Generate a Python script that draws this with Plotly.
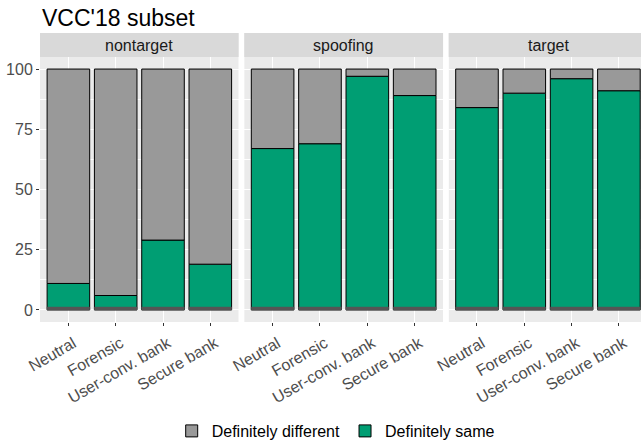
import plotly.graph_objects as go

panels = ["nontarget", "spoofing", "target"]
categories = ["Neutral", "Forensic", "User-conv. bank", "Secure bank"]
same = {
    "nontarget": [11, 6, 29, 19],
    "spoofing": [67, 69, 97, 89],
    "target": [84, 90, 96, 91],
}
different = {p: [100 - v for v in same[p]] for p in panels}
baseline = [1.2, 1.2, 1.2, 1.2]
y_ticks = [0, 25, 50, 75, 100]

GREEN = "#009E73"
GREY = "#999999"
FONT = "Liberation Sans, Arial, sans-serif"

W, H = 641, 442
ML, MR, MT, MB = 40, 0, 57, 120
PW = W - ML - MR
PH = H - MT - MB

# panel pixel extents
px = [(40, 238.7), (244.2, 443.1), (448.6, 641)]
domains = [((a - ML) / PW, (b - ML) / PW) for a, b in px]
unit = (238.7 - 40) / 4.2
ranges = [[-0.6, 3.6], [-0.6, 3.6], [-0.6, -0.6 + (641 - 448.6) / unit]]

fig = go.Figure()
for i, p in enumerate(panels):
    xa = "x" if i == 0 else f"x{i+1}"
    ya = "y" if i == 0 else f"y{i+1}"
    fig.add_trace(go.Bar(
        x=categories, y=same[p], base=[0] * 4, name="Definitely same",
        marker=dict(color=GREEN, line=dict(color="black", width=1)),
        width=0.9, xaxis=xa, yaxis=ya, showlegend=(i == 0), legendrank=2,
    ))
    fig.add_trace(go.Bar(
        x=categories, y=different[p], base=same[p], name="Definitely different",
        marker=dict(color=GREY, line=dict(color="black", width=1)),
        width=0.9, xaxis=xa, yaxis=ya, showlegend=(i == 0), legendrank=1,
    ))
    fig.add_trace(go.Bar(
        x=categories, y=baseline, base=[0] * 4, name="",
        marker=dict(color="#555555", line=dict(color="#555555", width=0.5)),
        width=0.9, xaxis=xa, yaxis=ya, showlegend=False, hoverinfo="skip",
    ))

layout = dict(
    width=W, height=H,
    margin=dict(l=ML, r=MR, t=MT, b=MB, autoexpand=False),
    paper_bgcolor="white", plot_bgcolor="#EBEBEB",
    barmode="overlay",
    font=dict(family=FONT, size=16, color="#4D4D4D"),
    legend=dict(
        orientation="h", x=0.492, xanchor="center",
        yref="container", y=1 - 431 / H, yanchor="middle",
        font=dict(size=16, color="black"), traceorder="normal",
        itemwidth=30, tracegroupgap=0,
    ),
)
for i in range(3):
    xk = "xaxis" if i == 0 else f"xaxis{i+1}"
    yk = "yaxis" if i == 0 else f"yaxis{i+1}"
    layout[xk] = dict(
        domain=list(domains[i]), range=ranges[i], type="category",
        anchor="y" if i == 0 else f"y{i+1}",
        showgrid=True, gridcolor="white", gridwidth=1.1,
        ticks="outside", ticklen=3, tickcolor="#333333", tickwidth=1,
        tickangle=-30, tickfont=dict(size=16, color="#4D4D4D"),
        ticklabelshift=5, ticklabelstandoff=2,
        showline=False, zeroline=False, fixedrange=True, automargin=False,
    )
    layout[yk] = dict(
        domain=[0, 1], range=[-5, 105],
        anchor="x" if i == 0 else f"x{i+1}",
        tickvals=y_ticks, showticklabels=(i == 0),
        ticks="outside" if i == 0 else "", ticklen=3, tickcolor="#333333", tickwidth=1,
        showgrid=True, gridcolor="white", gridwidth=1.1,
        minor=dict(dtick=12.5, tick0=0, showgrid=True, gridcolor="white", gridwidth=0.5, ticks=""),
        zeroline=False, showline=False, fixedrange=True, automargin=False,
        tickfont=dict(size=16, color="#4D4D4D"),
    )
    if i > 0:
        layout[yk]["matches"] = "y"
fig.update_layout(**layout)

shapes = []
annotations = []
# white gaps between panels
for (a0, a1), (b0, b1) in zip(domains[:-1], domains[1:]):
    shapes.append(dict(type="rect", xref="paper", yref="paper", x0=a1, x1=b0, y0=0, y1=1,
                       fillcolor="white", line=dict(width=0), layer="below"))
strip_top = 1 + 24 / PH
for i, p in enumerate(panels):
    d0, d1 = domains[i]
    shapes.append(dict(type="rect", xref="paper", yref="paper", x0=d0, x1=d1, y0=1, y1=strip_top,
                       fillcolor="#D9D9D9", line=dict(width=0)))
    cx = (d0 + (px[i][0] + 199 - ML) / PW) / 2 if i == 2 else (d0 + d1) / 2
    annotations.append(dict(text=p, xref="paper", yref="paper", x=cx,
                            y=1 + 12 / PH, xanchor="center", yanchor="middle", showarrow=False,
                            font=dict(size=16, color="#1A1A1A", family=FONT)))
annotations.append(dict(text="VCC'18 subset", xref="paper", yref="paper", x=0, y=1 + (57 - 18) / PH,
                        xanchor="left", yanchor="middle", showarrow=False,
                        font=dict(size=23, color="black", family=FONT)))
fig.update_layout(shapes=shapes, annotations=annotations)

fig.write_html("out.html", config={"displayModeBar": False},
               post_script="document.body.style.margin='0px';document.body.style.overflow='hidden';")
